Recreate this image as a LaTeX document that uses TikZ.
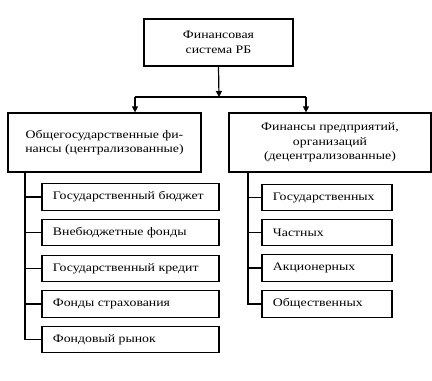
\documentclass[tikz,border=0pt]{standalone}
\usepackage{fontspec}
\setmainfont{Liberation Serif}[FakeStretch=1.2]
\usetikzlibrary{arrows.meta}
\begin{document}
\begin{tikzpicture}[x=1pt,y=-1pt,
  box/.style={draw,line width=1.2pt,fill=white,inner sep=0pt},
  conn/.style={line width=1.2pt},
  arr/.style={line width=1.2pt,-{Triangle[width=6pt,length=6pt]}},
  txt/.style={font=\fontsize{11.5}{14.5}\selectfont,align=center},
  ltxt/.style={font=\fontsize{11.5}{14}\selectfont,anchor=west}]
\useasboundingbox (0,0) rectangle (432,381);
% top
\node[box,minimum width=149pt,minimum height=47pt] (top) at (218.5,42.5) {};
\node[txt] (toptext) at (top.center) {Финансовая\\система РБ};
% second level
\node[box,minimum width=193pt,minimum height=59pt] (L) at (104.5,142.5) {};
\node[txt] (Ltext) at (L.center) {Общегосударственные фи-\\нансы (централизованные)};
\node[box,minimum width=202pt,minimum height=59pt] (R) at (330,142.5) {};
\node[txt] (Rtext) at (R.center) {Финансы предприятий,\\организаций\\(децентрализованные)};
\coordinate (split) at (219,97);
\coordinate (sl) at (135,97);
\coordinate (sr) at (306,97);
\draw[arr] (top.south) -- (split);
\draw[conn] (sl) -- (sr);
\draw[arr] (sl) -- (sl |- L.north);
\draw[arr] (sr) -- (sr |- R.north);
% left children
\foreach \i/\y/\t in {1/197/Государственный бюджет,2/232.5/Внебюджетные фонды,3/268.5/Государственный кредит,4/304/Фонды страхования,5/339.5/Фондовый рынок}{
  \node[box,minimum width=177pt,minimum height=26.5pt] (l\i) at (130.5,\y) {};
  \node[ltxt] (lt\i) at ([xshift=8pt]l\i.west) {\t};
}
\coordinate (lv) at (25,172);
\draw[conn] (lv) |- (l5.west);
\foreach \i in {1,2,3,4}{\draw[conn] (lv |- l\i.west) -- (l\i.west);}
% right children
\foreach \i/\y/\t in {1/197.5/Государственных,2/232.5/Частных,3/268/Акционерных,4/304/Общественных}{
  \node[box,minimum width=130pt,minimum height=26.5pt] (r\i) at (327,\y) {};
  \node[ltxt] (rt\i) at ([xshift=8pt]r\i.west) {\t};
}
\coordinate (rv) at (248,172);
\draw[conn] (rv) |- (r4.west);
\foreach \i in {1,2,3}{\draw[conn] (rv |- r\i.west) -- (r\i.west);}
\end{tikzpicture}
\end{document}
